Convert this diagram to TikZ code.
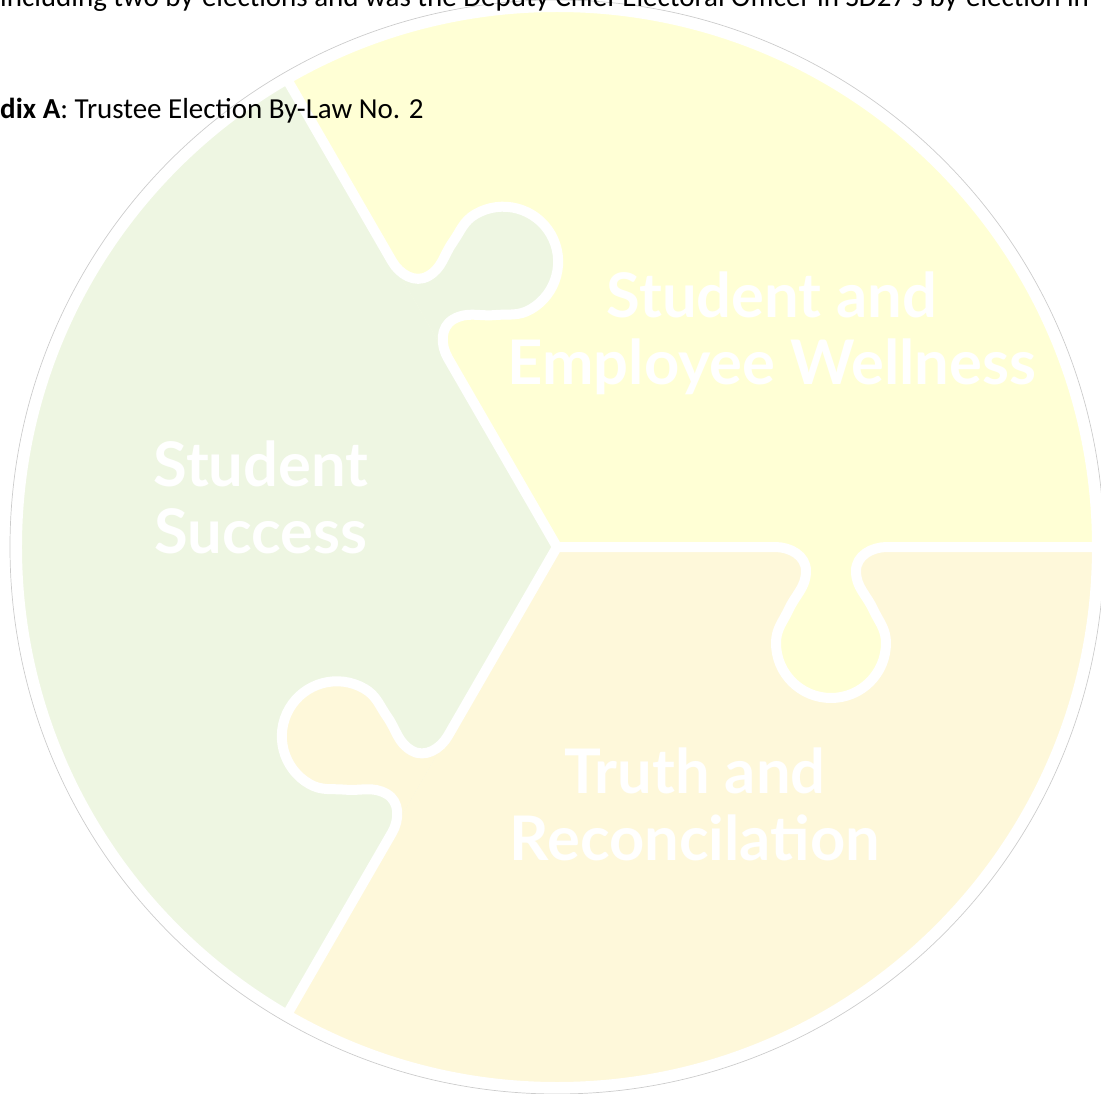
\documentclass[tikz,border=0pt]{standalone}
\usepackage{fontspec}
\setmainfont{Carlito}
\newfontfamily\labelfont{Lato}
\usepackage{tikz}
\definecolor{greenpiece}{HTML}{EEF6E2}
\definecolor{yellowpiece}{HTML}{FFFFD5}
\definecolor{creampiece}{HTML}{FEF8DA}
\newcommand{\knobrest}{to[out=0,in=90] (249,-24) to[out=270,in=65] (232,-62)
  to[out=245,in=90] (219,-96) arc[start angle=180, end angle=360, radius=55]
  to[out=90,in=295] (316,-62) to[out=115,in=270] (299,-24) to[out=90,in=180] (330,0)}

\begin{document}
\begin{tikzpicture}[x=1pt, y=1pt,
    seam/.style = {draw=white, line width=10pt, line join=round},
    piecelabel/.style = {text=white, align=center, inner sep=0pt,
      font=\labelfont\bfseries\fontsize{61.5}{67}\selectfont},
    bodytext/.style = {anchor=base west, inner sep=0pt, text=black,
      font=\fontsize{29}{34}\selectfont}]
  \useasboundingbox (-557,-546) rectangle (544,547);
  \clip (-557,-546) rectangle (544,547);
  % the three pieces
  \fill[yellowpiece] (0,0) -- (0:540) arc[start angle=0, end angle=120, radius=540] -- cycle;
  \fill[greenpiece] (0,0) -- (120:540) arc[start angle=120, end angle=240, radius=540] -- cycle;
  \fill[creampiece] (0,0) -- (240:540) arc[start angle=240, end angle=360, radius=540] -- cycle;
  % knobs
  \fill[yellowpiece] (218,0) \knobrest -- cycle;
  \begin{scope}[rotate=120]
    \fill[greenpiece] (218,0) \knobrest -- cycle;
  \end{scope}
  \begin{scope}[rotate=240]
    \fill[creampiece] (218,0) \knobrest -- cycle;
  \end{scope}
  % seams
  \foreach \a in {0,120,240}
    \draw[seam, rotate=\a] (0,0) -- (218,0) \knobrest -- (560,0);
  \draw[white, line width=10pt] (0,0) circle[radius=540];
  \draw[gray!40, line width=0.7pt] (0,0) circle[radius=547];
  % labels
  \node[piecelabel] (success) at (-296,50) {Student\\Success};
  \node[piecelabel] (wellness) at (215,214) {Student and\\Employee Wellness};
  \node[piecelabel] (truth) at (138,-257) {Truth and\\Reconcilation};
  % text of the page
  \node[bodytext] (introline) at (-557,540)
    {including two by-elections and was the Deputy Chief Electoral Officer in SD27's by-election in};
  \node[bodytext] (appendix) at (-557,428) {\textbf{dix A}: Trustee Election By-Law No. 2};
\end{tikzpicture}
\end{document}
